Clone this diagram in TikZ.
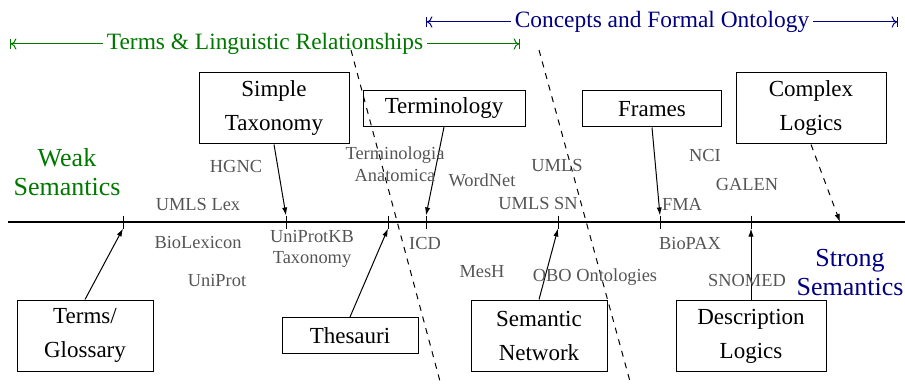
\documentclass[tikz,border=0pt]{standalone}
\usepackage{fontspec}
\setmainfont{Liberation Serif}
\usetikzlibrary{arrows.meta}

\newcommand\boxfont{\fontsize{11.5}{17}\selectfont}
\newcommand\lblfont{\fontsize{9.2}{10.8}\selectfont}
\newcommand\headfont{\fontsize{11.7}{14}\selectfont}
\newcommand\polefont{\fontsize{13}{14.5}\selectfont}
\definecolor{lingreen}{RGB}{0,120,0}
\definecolor{ontoblue}{RGB}{0,0,128}
\definecolor{refgray}{RGB}{85,85,85}

\begin{document}
\begin{tikzpicture}[x = 0.5pt, y = -0.5pt, >= {Latex[length = 4pt, width = 2.6pt]}, line width = 0.5pt,
                        box/.style = {draw, align = center, font = \boxfont, inner sep = 2pt, minimum width = 68pt},
                        one/.style = {minimum height = 18pt},
                        two/.style = {minimum height = 35.5pt},
                        lbl/.style = {text = refgray, align = center, font = \lblfont, inner sep = 0pt},
                        tick/.style = {inner sep = 0pt, minimum width = 0pt, minimum height = 6pt},
                        head/.style = {fill = white, font = \headfont, inner sep = 2pt},
                        span/.style = {{Bar[width = 5pt]To[]}-{To[]Bar[width = 5pt]}}]
      \useasboundingbox (0, 0) rectangle (905, 390);

      % axis and ticks
      \coordinate (ax1) at (8, 222);
      \coordinate (ax2) at (905, 222);
      \draw [line width = 1.2pt] (ax1) -- (ax2);
      \node [tick] (k1) at (123, 222){};
      \node [tick] (k2) at (286, 222){};
      \node [tick] (k3) at (388, 222){};
      \node [tick] (k4) at (426, 222){};
      \node [tick] (k5) at (558, 222){};
      \node [tick] (k6) at (660, 222){};
      \node [tick] (k7) at (751, 222){};
      \coordinate (k8) at (840, 222);
      \foreach \i in {1,...,7}
        \draw (k\i.north) -- (k\i.south);

      % headers
      \coordinate (g1) at (10, 44);
      \coordinate (g2) at (520, 44);
      \coordinate (b1) at (426, 22);
      \coordinate (b2) at (898, 22);
      \draw [span, lingreen] (g1) -- node [head, text = lingreen] (ling) {Terms \& Linguistic Relationships} (g2);
      \draw [span, ontoblue] (b1) -- node [head, text = ontoblue] (onto) {Concepts and Formal Ontology} (b2);

      % separators
      \coordinate (s1) at (351, 50);
      \coordinate (s2) at (441, 385);
      \coordinate (s3) at (539, 50);
      \coordinate (s4) at (631, 385);
      \draw [dashed] (s1) -- (s2);
      \draw [dashed] (s3) -- (s4);

      % boxes
      \node [box, two] (gloss) at (85, 335.5){Terms/\\Glossary};
      \node [box, two, minimum width = 75pt] (tax) at (274, 108.5){Simple\\Taxonomy};
      \node [box, one] (thes) at (350, 335.5){Thesauri};
      \node [box, one, minimum width = 81pt] (term) at (444, 108.5){Terminology};
      \node [box, two] (semnet) at (539, 335.5){Semantic\\Network};
      \node [box, one, minimum width = 69.5pt] (frames) at (652, 109){Frames};
      \node [box, two, minimum width = 75pt] (dl) at (751, 336){Description\\Logics};
      \node [box, two, minimum width = 75pt] (cplx) at (811, 108.5){Complex\\Logics};

      \draw [->] (gloss.north) -- (k1.south);
      \draw [->] (tax.south) -- (k2.north);
      \draw [->] (thes.north) -- (k3.south);
      \draw [->] (term.south) -- (k4.north);
      \draw [->] (semnet.north) -- (k5.south);
      \draw [->] (frames.south) -- (k6.north);
      \draw [->] (dl.north) -- (k7.south);
      \draw [->, dashed] (cplx.south) -- (k8);

      % ends of the scale
      \node [align = center, font = \polefont, text = lingreen] (weak) at (67, 172){Weak\\Semantics};
      \node [align = center, font = \polefont, text = ontoblue] (strong) at (850, 273){Strong\\Semantics};

      % examples
      \node [lbl] (hgnc) at (236, 166){HGNC};
      \node [lbl] (umlslex) at (198, 204){UMLS Lex};
      \node [lbl] (biolex) at (198, 242){BioLexicon};
      \node [lbl] (uniprot) at (217, 280){UniProt};
      \node [lbl] (uniprotkb) at (312, 249){UniProtKB\\Taxonomy};
      \node [lbl] (ta) at (395, 164){Terminologia\\Anatomica};
      \node [lbl] (icd) at (425, 243){ICD};
      \node [lbl] (wordnet) at (482, 180){WordNet};
      \node [lbl] (mesh) at (482, 272){MesH};
      \node [lbl] (umls) at (557, 165){UMLS};
      \node [lbl] (umlssn) at (538, 203){UMLS SN};
      \node [lbl] (obo) at (595, 277){OBO Ontologies};
      \node [lbl] (fma) at (682, 204){FMA};
      \node [lbl] (biopax) at (690, 243){BioPAX};
      \node [lbl] (nci) at (705, 155){NCI};
      \node [lbl] (galen) at (747, 184){GALEN};
      \node [lbl] (snomed) at (747, 280){SNOMED};
      \end{tikzpicture}
\end{document}
